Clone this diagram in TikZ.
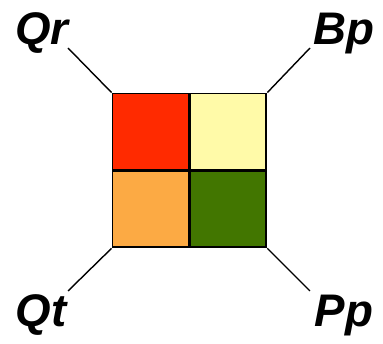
\documentclass[tikz,border=0pt]{standalone}
\usepackage{fontspec}
\setmainfont{Liberation Sans}
\usetikzlibrary{positioning}

\definecolor{cellred}{RGB}{255,42,0}
\definecolor{cellyellow}{RGB}{255,250,168}
\definecolor{cellorange}{RGB}{252,170,68}
\definecolor{cellgreen}{RGB}{66,118,0}

\begin{document}
\begin{tikzpicture}[
  x=0.02cm, y=-0.02cm,
  cell/.style={draw=black, line width=1.1pt, rectangle, minimum width=1.52cm, minimum height=1.52cm, inner sep=0pt},
  tag/.style={anchor=base, inner sep=0pt, font=\fontsize{26}{29}\selectfont\bfseries\itshape},
  leg/.style={draw=black, line width=0.8pt}
]
  \useasboundingbox (0,0) rectangle (383,344);

  % Cuadricula de cuatro celdas
  \node[cell, fill=cellred] (qr) at (150.5,131.5) {};
  \node[cell, fill=cellyellow, right=0pt of qr] (bp) {};
  \node[cell, fill=cellorange, below=0pt of qr] (qt) {};
  \node[cell, fill=cellgreen, right=0pt of qt] (pp) {};

  % Etiquetas de las esquinas
  \node[tag] (lqr) at (42,45) {Qr};
  \node[tag] (lbp) at (344,45) {Bp};
  \node[tag] (lqt) at (41,327) {Qt};
  \node[tag] (lpp) at (344,327) {Pp};

  % Extremos libres de las lineas
  \coordinate (eqr) at (68,48);
  \coordinate (ebp) at (310,48);
  \coordinate (eqt) at (68,291);
  \coordinate (epp) at (310,291);

  % Lineas diagonales
  \draw[leg] (qr.north west) -- (eqr);
  \draw[leg] (bp.north east) -- (ebp);
  \draw[leg] (qt.south west) -- (eqt);
  \draw[leg] (pp.south east) -- (epp);

\end{tikzpicture}
\end{document}
